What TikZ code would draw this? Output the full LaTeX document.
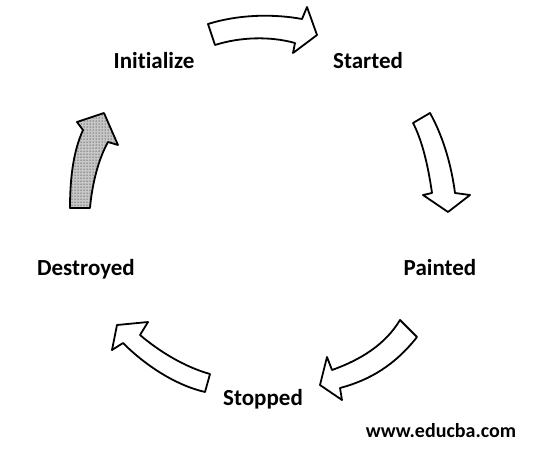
\documentclass[tikz,border=0pt]{standalone}
\usepackage{fontspec}
\setmainfont{Carlito}[Ligatures=NoCommon]
\usetikzlibrary{positioning,patterns}

\begin{document}
\begin{tikzpicture}[x=1pt, y=-1pt]
            \tikzstyle{state} = [font=\bfseries\fontsize{23}{28}\selectfont, inner sep=0pt, anchor=base];
            \tikzstyle{blockarrow} = [draw=black, line width=1.8pt, line join=round, fill=white];
            \useasboundingbox (0,0) rectangle (535,451);

            \node [state] (init) at (154,68) {Initialize};
            \node [state] (started) at (368,68) {Started};
            \node [state] (painted) at (440,275) {Painted};
            \node [state] (destroyed) at (86,275) {Destroyed};
            \node [state] (stopped) at (263,405) {Stopped};
            \node [font=\bfseries\fontsize{20}{24}\selectfont, inner sep=0pt, anchor=base] (site) at (441,437) {www.educba.com};

            % init -> started
            \draw [blockarrow] (208,24) .. controls (240,14) and (275,14) .. (302,19) -- (307,7) -- (317,35)
                -- (293,53) -- (295,43) .. controls (270,36) and (240,37) .. (215,45) -- cycle;
            % started -> painted
            \draw [blockarrow] (413,123) -- (430,113) .. controls (445,140) and (452,170) .. (455,193) -- (470,195)
                -- (448,212) -- (423,195) -- (432,193) .. controls (428,165) and (422,140) .. (413,123) -- cycle;
            % painted -> stopped
            \draw [blockarrow] (400,320) -- (417,337) .. controls (395,365) and (370,380) .. (340,388) -- (342,400)
                -- (320,385) -- (327,357) -- (332,370) .. controls (360,360) and (385,345) .. (400,320) -- cycle;
            % stopped -> destroyed
            \draw [blockarrow] (210,374) -- (205,392) .. controls (175,385) and (145,365) .. (123,343) -- (112,350)
                -- (117,325) -- (148,322) -- (140,335) .. controls (160,352) and (185,367) .. (210,374) -- cycle;
            % destroyed -> init
            \draw [blockarrow, preaction={fill=black!22}, pattern=dots] (70,208) .. controls (70,175) and (74,150) .. (83,130)
                -- (77,122) -- (104,113) -- (118,145) -- (108,142) .. controls (98,160) and (92,185) .. (90,208) -- cycle;
        \end{tikzpicture}
\end{document}
